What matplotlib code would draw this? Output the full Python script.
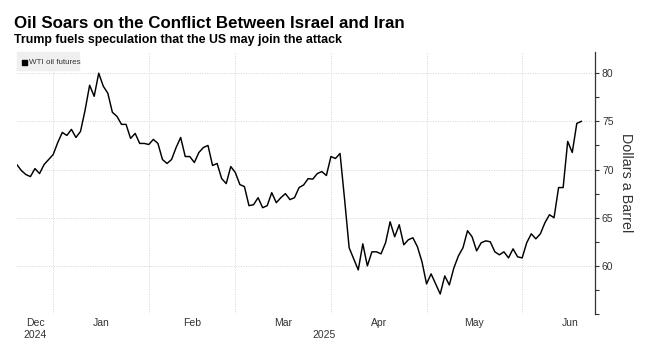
import numpy as np
import pandas as pd
import matplotlib
matplotlib.use("Agg")
import matplotlib.pyplot as plt
from matplotlib.patches import Rectangle
from matplotlib.transforms import blended_transform_factory

plt.rcParams["font.family"] = ["Liberation Sans", "DejaVu Sans"]

title = "Oil Soars on the Conflict Between Israel and Iran"
subtitle = "Trump fuels speculation that the US may join the attack"
series_name = "WTI oil futures"
y_label = "Dollars a Barrel"

# trading days, NYMEX holidays skipped
holidays = ["2024-12-25", "2025-01-01", "2025-01-20", "2025-02-17",
            "2025-04-18", "2025-05-26"]
dates = pd.bdate_range("2024-12-18", "2025-06-18", freq="C", holidays=holidays)

# WTI close
wti_dec = [70.52, 69.90, 69.48, 69.27, 70.10, 69.58, 70.52, 71.04, 71.56]
wti_jan = [72.80, 73.85, 73.54, 74.17, 73.33, 73.96, 76.15, 78.75, 77.60, 80.00,
           78.65, 77.92, 75.94, 75.52, 74.69, 74.69, 73.23, 73.75, 72.71, 72.71,
           72.60]
wti_feb = [73.13, 72.71, 71.04, 70.63, 71.04, 72.29, 73.33, 71.35, 71.35, 70.73,
           71.77, 72.29, 72.50, 70.42, 70.63, 69.06, 68.54, 70.31, 69.69]
wti_mar = [68.44, 68.23, 66.25, 66.35, 67.08, 66.04, 66.25, 67.60, 66.56, 67.08,
           67.50, 66.88, 67.08, 68.13, 68.40, 69.06, 69.00, 69.58, 69.79, 69.38,
           71.35]
wti_apr = [71.15, 71.67, 66.90, 61.88, 60.73, 59.58, 62.29, 60.00, 61.46, 61.46,
           61.25, 62.40, 64.58, 63.02, 64.27, 62.19, 62.71, 62.92, 61.98, 60.42,
           58.13]
wti_may = [59.17, 58.13, 57.08, 58.96, 58.02, 59.79, 61.04, 61.88, 63.65, 63.02,
           61.56, 62.40, 62.60, 62.50, 61.46, 61.15, 61.46, 60.83, 61.77, 60.94,
           60.83]
wti_jun = [62.40, 63.33, 62.81, 63.33, 64.48, 65.31, 65.00, 68.13, 68.13, 72.92,
           71.77, 74.79, 75.00]
wti = wti_dec + wti_jan + wti_feb + wti_mar + wti_apr + wti_may + wti_jun

idx = np.arange(len(wti))
months = dates.to_period("M")

fig = plt.figure(figsize=(6.45, 3.41), dpi=100)
ax = fig.add_axes([0.026, 0.079, 0.8965, 0.7685])

ax.plot(idx, wti, color="black", lw=1.05, zorder=3)

ax.set_xlim(0, 127)
ax.set_ylim(55, 82.2)

# month boundaries at the last trading day of each month
month_ends = [int(np.where(months == m)[0][-1]) for m in months.unique()[:-1]]
for e in month_ends:
    ax.axvline(e, color="#d4d4d4", lw=0.7, ls=(0, (1, 1.5)), zorder=1)
for v in [55, 60, 65, 70, 75, 80]:
    ax.axhline(v, color="#d4d4d4", lw=0.7, ls=(0, (1, 1.5)), zorder=1)

bounds = [0] + month_ends + [month_ends[-1] + 21]
month_names = [m.strftime("%b") for m in months.unique()]
trans = blended_transform_factory(ax.transData, ax.transAxes)
for i, name in enumerate(month_names):
    ax.text((bounds[i] + bounds[i + 1]) / 2, -0.015, name, transform=trans,
            ha="center", va="top", fontsize=7.5, color="#333333")
ax.text(month_ends[0] / 2, -0.062, "2024", transform=trans,
        ha="center", va="top", fontsize=7.5, color="#333333")
ax.text((month_ends[0] + 127) / 2, -0.062, "2025", transform=trans,
        ha="center", va="top", fontsize=7.5, color="#333333")

ax.set_xticks([])
ax.yaxis.tick_right()
ax.set_yticks([60, 65, 70, 75, 80])
ax.set_yticks(np.arange(55, 82.5, 2.5), minor=True)
ax.tick_params(axis="y", which="both", length=3, width=0.8, color="#333333",
               labelsize=7.5, labelcolor="#333333", pad=2)
ax.yaxis.set_label_position("right")
ax.set_ylabel(y_label, rotation=-90, fontsize=10.3, color="#333333", labelpad=14)

for s in ["top", "left", "bottom"]:
    ax.spines[s].set_visible(False)
ax.spines["right"].set_color("#333333")
ax.spines["right"].set_linewidth(0.9)

# legend box
fig.patches.append(Rectangle((17 / 645, 1 - 70 / 341), 62 / 645, 18 / 341,
                             transform=fig.transFigure, color="#efefef", zorder=0))
fig.patches.append(Rectangle((22 / 645, 1 - 65 / 341), 5 / 645, 5 / 341,
                             transform=fig.transFigure, color="black", zorder=4))
fig.text(29 / 645, 1 - 62.5 / 341, series_name, fontsize=5.8, color="#333333",
         va="center", ha="left")

fig.text(14 / 645, 1 - 28 / 341, title, fontsize=12.2, fontweight="bold",
         va="baseline", ha="left")
fig.text(14 / 645, 1 - 43 / 341, subtitle, fontsize=8.9, fontweight="bold",
         va="baseline", ha="left")

fig.savefig("out.png", dpi=100)
